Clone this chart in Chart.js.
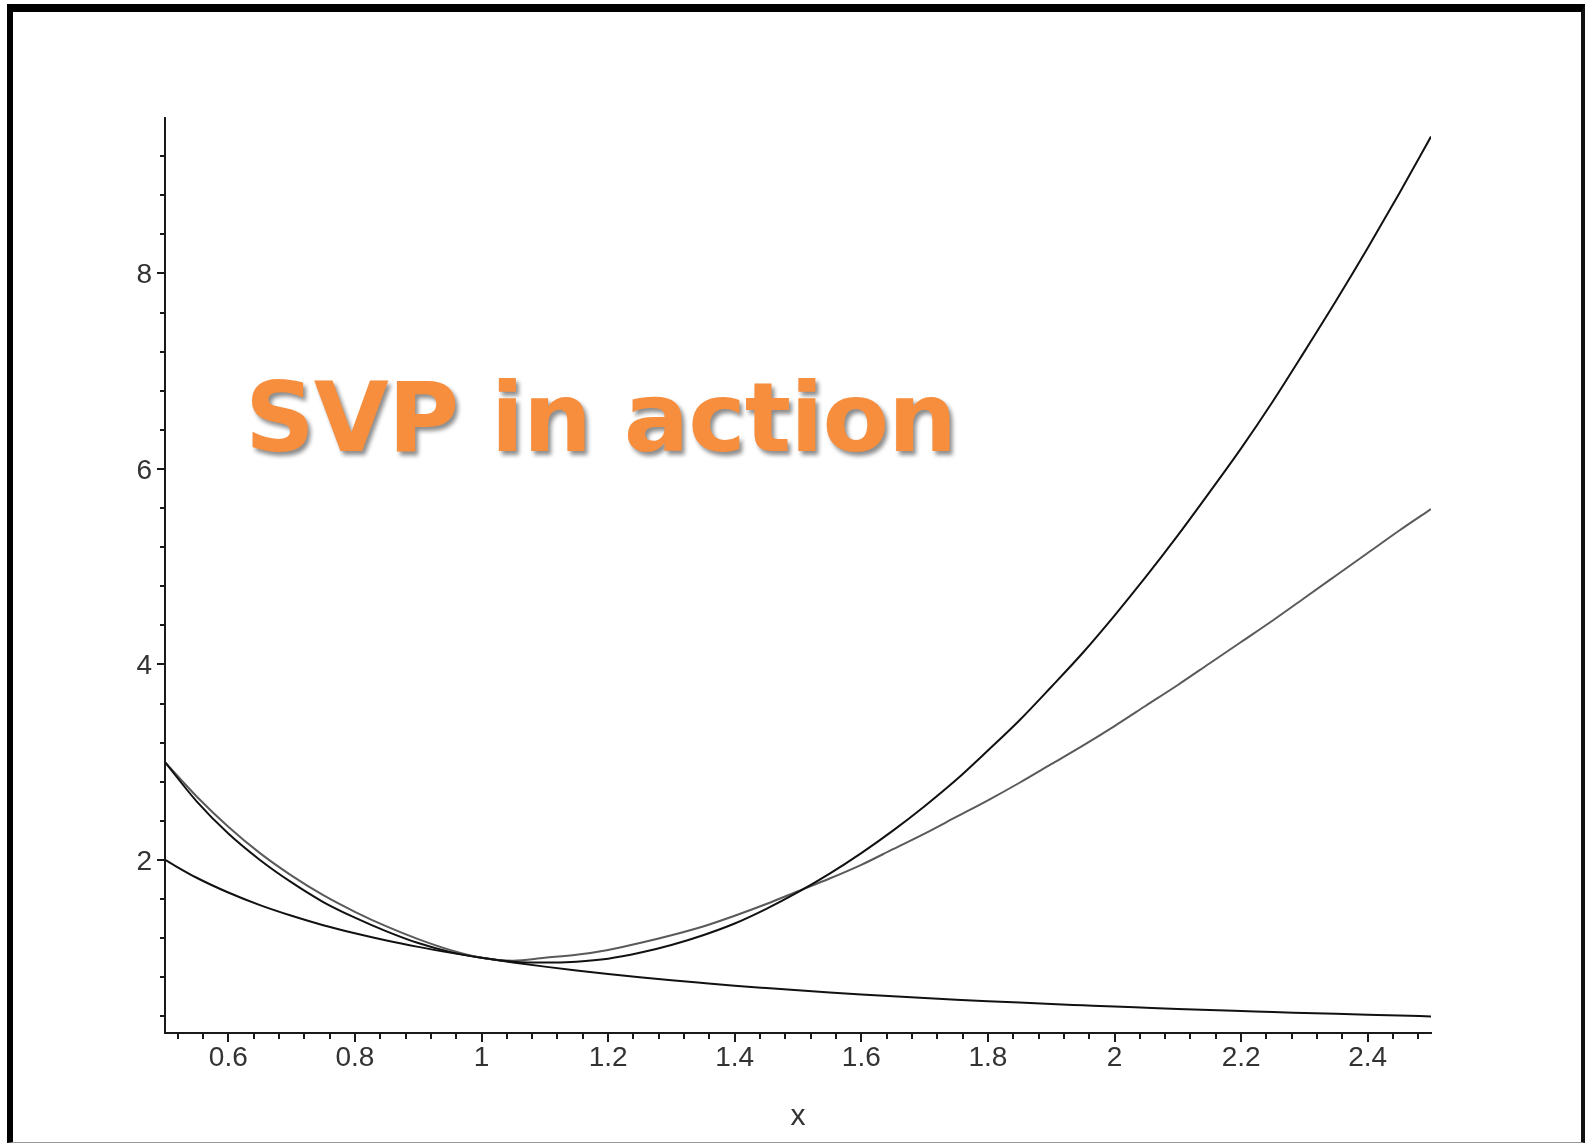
<!DOCTYPE html>
<html lang="en">
<head>
  <meta charset="UTF-8">
  <title>SVP in action</title>
  <script src="https://cdn.jsdelivr.net/npm/chart.js"></script>
  <style>
    html, body {
      margin: 0;
      padding: 0;
      background: #fff;
      width: 1585px;
      height: 1143px;
      overflow: hidden;
    }
    #frame {
      position: absolute;
      left: 7px;
      top: 4px;
      width: 1578px;
      height: 1139px;
      box-sizing: border-box;
      border-left: 6px solid #000;
      border-top: 8px solid #000;
      border-right: 4px solid #111;
      border-bottom: 1px solid #999;
    }
    #plot {
      position: absolute;
      left: 0;
      top: 0;
    }
    #title {
      position: absolute;
      left: 245px;
      top: 369px;
      font-family: "DejaVu Sans", Verdana, sans-serif;
      font-weight: bold;
      font-size: 97px;
      line-height: 1;
      letter-spacing: -1px;
      color: #f68e3e;
      text-shadow: 3px 4px 4px rgba(0, 0, 0, 0.45);
      white-space: nowrap;
    }
  </style>
</head>
<body>
  <div id="frame"></div>
  <canvas id="plot" width="1585" height="1143"></canvas>
  <div id="title">SVP in action</div>

  <script>
    const xs = [0.5, 0.55, 0.6, 0.65, 0.7, 0.75, 0.8, 0.85, 0.9, 0.95,
                1.0, 1.05, 1.1, 1.15, 1.2, 1.25, 1.3, 1.35, 1.4, 1.45,
                1.5, 1.55, 1.6, 1.65, 1.7, 1.75, 1.8, 1.85, 1.9, 1.95,
                2.0, 2.05, 2.1, 2.15, 2.2, 2.25, 2.3, 2.35, 2.4, 2.45, 2.5];

    // steep black curve (ends near 9.4)
    const curveTop = [3.00, 2.60, 2.27, 2.00, 1.77, 1.57, 1.41, 1.27, 1.15, 1.06,
                      1.00, 0.96, 0.95, 0.96, 0.99, 1.05, 1.13, 1.23, 1.35, 1.50,
                      1.67, 1.86, 2.07, 2.30, 2.55, 2.82, 3.12, 3.43, 3.77, 4.12,
                      4.50, 4.90, 5.32, 5.76, 6.21, 6.69, 7.20, 7.72, 8.26, 8.82, 9.40];

    // grey curve (ends near 5.6)
    const curveMid = [3.00, 2.65, 2.34, 2.07, 1.84, 1.64, 1.47, 1.32, 1.19, 1.08,
                      1.00, 0.97, 1.00, 1.03, 1.08, 1.15, 1.23, 1.32, 1.43, 1.55,
                      1.68, 1.81, 1.95, 2.11, 2.27, 2.44, 2.61, 2.79, 2.98, 3.17,
                      3.37, 3.58, 3.79, 4.01, 4.23, 4.45, 4.68, 4.91, 5.14, 5.37, 5.59];

    // lower black curve
    const curveLow = [2.000, 1.818, 1.667, 1.538, 1.429, 1.333, 1.250, 1.176, 1.111, 1.053,
                      1.000, 0.952, 0.909, 0.870, 0.833, 0.800, 0.769, 0.741, 0.714, 0.690,
                      0.667, 0.645, 0.625, 0.606, 0.588, 0.571, 0.556, 0.541, 0.526, 0.513,
                      0.500, 0.488, 0.476, 0.465, 0.455, 0.444, 0.435, 0.426, 0.417, 0.408, 0.400];

    const xMajorTicks = [0.6, 0.8, 1, 1.2, 1.4, 1.6, 1.8, 2, 2.2, 2.4];
    const yMajorTicks = [2, 4, 6, 8];
    const xMinorTicks = [];
    for (let k = 0; k < 50; k++) {
      if (k % 5 !== 2) xMinorTicks.push(0.52 + 0.04 * k);
    }
    const yMinorTicks = [];
    for (let k = 1; k < 24; k++) {
      if (k % 5 !== 0) yMinorTicks.push(0.4 * k);
    }

    const AXIS = '#1a1a1a';
    const TICK_FONT = { family: '"Liberation Sans", Arial, sans-serif', size: 28 };

    function pts(ys) {
      return xs.map((x, i) => ({ x: x, y: ys[i] }));
    }

    function lineSet(label, ys, color) {
      return {
        label: label,
        data: pts(ys),
        borderColor: color,
        backgroundColor: color,
        borderWidth: 2,
        pointRadius: 0,
        fill: false,
        cubicInterpolationMode: 'monotone'
      };
    }

    // short minor ticks on both axes
    const minorTicks = {
      id: 'minorTicks',
      afterDraw(chart) {
        const ctx = chart.ctx;
        const sx = chart.scales.x, sy = chart.scales.y;
        const area = chart.chartArea;
        ctx.save();
        ctx.strokeStyle = AXIS;
        ctx.lineWidth = 2;
        ctx.beginPath();
        xMinorTicks.forEach(v => {
          const px = Math.round(sx.getPixelForValue(v));
          ctx.moveTo(px, area.bottom);
          ctx.lineTo(px, area.bottom + 6);
        });
        yMinorTicks.forEach(v => {
          const py = Math.round(sy.getPixelForValue(v));
          ctx.moveTo(area.left, py);
          ctx.lineTo(area.left - 5, py);
        });
        ctx.stroke();
        ctx.restore();
      }
    };

    new Chart(document.getElementById('plot'), {
      type: 'line',
      data: {
        datasets: [
          lineSet('top', curveTop, '#111111'),
          lineSet('mid', curveMid, '#5a5a5a'),
          lineSet('low', curveLow, '#111111')
        ]
      },
      options: {
        responsive: false,
        animation: false,
        layout: { padding: { left: 0, top: 118, right: 154, bottom: 0 } },
        plugins: {
          legend: { display: false },
          tooltip: { enabled: false }
        },
        scales: {
          x: {
            type: 'linear',
            min: 0.5,
            max: 2.5,
            afterBuildTicks: s => { s.ticks = xMajorTicks.map(v => ({ value: v })); },
            afterFit: s => { s.height = 110; },
            border: { display: true, color: AXIS, width: 2 },
            grid: { drawOnChartArea: false, drawTicks: true, tickLength: 9, color: AXIS, lineWidth: 2 },
            ticks: {
              autoSkip: false,
              maxRotation: 0,
              padding: -1,
              color: '#333',
              font: TICK_FONT,
              callback: v => String(Math.round(v * 10) / 10)
            },
            title: {
              display: true,
              text: 'x',
              color: '#333',
              font: { family: '"Liberation Sans", Arial, sans-serif', size: 30 },
              padding: { top: 0, bottom: 8 }
            }
          },
          y: {
            type: 'linear',
            min: 0.23,
            max: 9.59,
            afterBuildTicks: s => { s.ticks = yMajorTicks.map(v => ({ value: v })); },
            afterFit: s => { s.width = 165; },
            border: { display: true, color: AXIS, width: 2 },
            grid: { drawOnChartArea: false, drawTicks: true, tickLength: 8, color: AXIS, lineWidth: 2 },
            ticks: {
              autoSkip: false,
              padding: 5,
              labelOffset: 2,
              color: '#333',
              font: TICK_FONT
            }
          }
        }
      },
      plugins: [minorTicks]
    });
  </script>
</body>
</html>
